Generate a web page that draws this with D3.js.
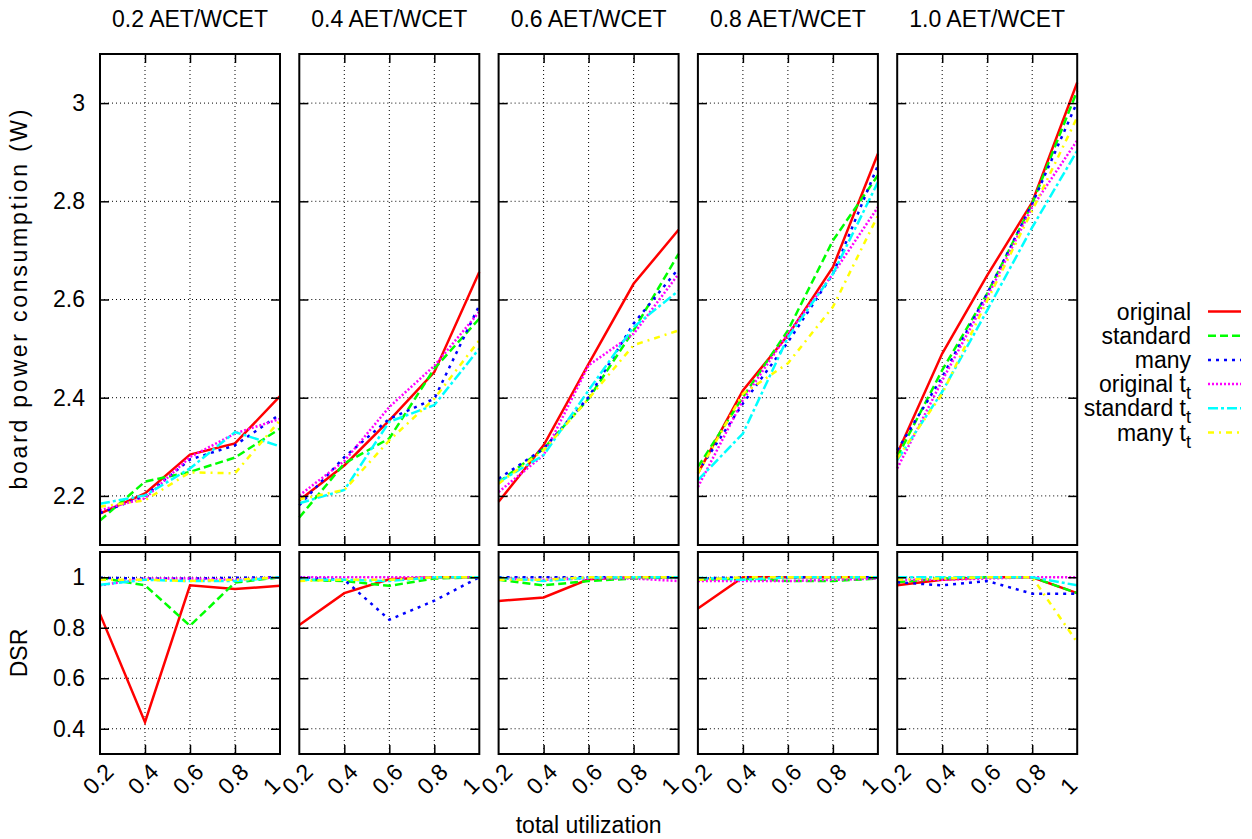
<!DOCTYPE html>
<html>
<head>
<meta charset="utf-8">
<script src="https://cdn.jsdelivr.net/npm/d3@7"></script>
<style>
  body { margin: 0; background: #fff; }
  svg { font-family: "Liberation Sans", Arial, sans-serif; }
</style>
</head>
<body>
<div id="chart"></div>
<script>
// utilization values on the x axis
const utilization = [0.2, 0.4, 0.6, 0.8, 1.0];
const panelTitles = ["0.2 AET/WCET", "0.4 AET/WCET", "0.6 AET/WCET", "0.8 AET/WCET", "1.0 AET/WCET"];
const powerTicks = [2.2, 2.4, 2.6, 2.8, 3.0];
const dsrTicks = [0.4, 0.6, 0.8, 1.0];

const seriesNames = ["original", "standard", "many", "original", "standard", "many"];
const seriesSub = [false, false, false, true, true, true];
const seriesColors = ["#ff0000", "#00ff00", "#0000ff", "#ff00ff", "#00ffff", "#ffff00"];
const seriesDash = [null, "8,4", "3,5", "2,2", "10,3,3,3", "6,5,2,5"];

// board power consumption (W), one row per AET/WCET panel
const powerOriginal = [
  [2.164, 2.205, 2.284, 2.307, 2.403],
  [2.191, 2.262, 2.354, 2.452, 2.656],
  [2.188, 2.303, 2.469, 2.632, 2.742],
  [2.246, 2.415, 2.527, 2.666, 2.897],
  [2.286, 2.490, 2.649, 2.798, 3.042]
];
const powerStandard = [
  [2.150, 2.229, 2.249, 2.278, 2.337],
  [2.156, 2.266, 2.317, 2.459, 2.561],
  [2.228, 2.296, 2.398, 2.537, 2.693],
  [2.259, 2.401, 2.537, 2.720, 2.853],
  [2.279, 2.456, 2.612, 2.795, 3.025]
];
const powerMany = [
  [2.165, 2.200, 2.274, 2.303, 2.366],
  [2.181, 2.279, 2.357, 2.398, 2.588],
  [2.235, 2.296, 2.401, 2.551, 2.663],
  [2.249, 2.388, 2.513, 2.652, 2.873],
  [2.293, 2.442, 2.612, 2.795, 3.002]
];
const powerOriginalTt = [
  [2.171, 2.195, 2.279, 2.327, 2.357],
  [2.201, 2.271, 2.381, 2.465, 2.575],
  [2.208, 2.283, 2.466, 2.530, 2.652],
  [2.218, 2.395, 2.530, 2.652, 2.788],
  [2.256, 2.435, 2.605, 2.788, 2.924]
];
const powerStandardTt = [
  [2.184, 2.201, 2.256, 2.330, 2.301],
  [2.185, 2.212, 2.351, 2.385, 2.500],
  [2.228, 2.283, 2.415, 2.544, 2.618],
  [2.232, 2.327, 2.523, 2.652, 2.839],
  [2.273, 2.412, 2.578, 2.747, 2.903]
];
const powerManyTt = [
  [2.178, 2.191, 2.248, 2.246, 2.354],
  [2.193, 2.212, 2.313, 2.398, 2.517],
  [2.225, 2.293, 2.398, 2.507, 2.537],
  [2.246, 2.408, 2.470, 2.585, 2.771],
  [2.276, 2.408, 2.598, 2.781, 2.971]
];

// deadline satisfaction ratio
const dsrOriginal = [
  [0.854, 0.426, 0.968, 0.953, 0.966],
  [0.811, 0.937, 0.992, 1.0, 1.0],
  [0.906, 0.920, 0.992, 1.0, 1.0],
  [0.876, 1.0, 1.0, 1.0, 1.0],
  [0.968, 0.990, 1.0, 1.0, 0.937]
];
const dsrStandard = [
  [0.998, 0.968, 0.808, 0.979, 1.0],
  [0.990, 0.985, 0.966, 0.995, 1.0],
  [0.990, 0.968, 0.985, 0.995, 1.0],
  [0.990, 0.995, 0.985, 0.985, 0.995],
  [0.980, 0.995, 1.0, 1.0, 0.937]
];
const dsrMany = [
  [0.998, 0.995, 0.995, 0.998, 1.0],
  [1.0, 0.990, 0.832, 0.907, 1.0],
  [1.0, 1.0, 1.0, 1.0, 1.0],
  [0.995, 1.0, 1.0, 1.0, 1.0],
  [0.980, 0.968, 0.985, 0.935, 0.935]
];
const dsrOriginalTt = [
  [0.968, 0.995, 0.995, 0.990, 1.0],
  [1.0, 1.0, 1.0, 1.0, 1.0],
  [0.995, 0.990, 0.995, 0.995, 0.985],
  [0.985, 0.985, 0.985, 0.990, 0.995],
  [0.990, 0.990, 0.995, 1.0, 1.0]
];
const dsrStandardTt = [
  [0.970, 0.990, 0.985, 0.985, 1.0],
  [0.990, 0.990, 0.985, 1.0, 1.0],
  [0.998, 0.985, 0.998, 1.0, 1.0],
  [0.998, 0.990, 1.0, 1.0, 1.0],
  [1.0, 1.0, 1.0, 1.0, 0.968]
];
const dsrManyTt = [
  [0.990, 0.990, 0.985, 0.990, 1.0],
  [0.985, 0.990, 0.990, 1.0, 1.0],
  [0.990, 0.990, 1.0, 1.0, 1.0],
  [0.990, 1.0, 1.0, 1.0, 1.0],
  [0.990, 0.995, 1.0, 1.0, 0.742]
];

const powerSeries = [powerOriginal, powerStandard, powerMany, powerOriginalTt, powerStandardTt, powerManyTt];
const dsrSeries = [dsrOriginal, dsrStandard, dsrMany, dsrOriginalTt, dsrStandardTt, dsrManyTt];

const W = 1252, H = 839;
const FONT = 23;
const panelLeft = 100, panelStep = 199.3, panelWidth = 180;
const topY0 = 54, topY1 = 545, botY0 = 552, botY1 = 754;

const svg = d3.select("#chart").append("svg")
  .attr("width", W).attr("height", H)
  .style("font-size", FONT + "px");

const yPower = d3.scaleLinear().domain([2.1, 3.1]).range([topY1, topY0]);
const yDsr = d3.scaleLinear().domain([0.3, 1.1]).range([botY1, botY0]);
const fmt = d => String(+d.toFixed(1));

function drawPanel(g, x, y, ticksY, rows, p, showY, showX) {
  const [x0, x1] = x.range();
  const [y1, y0] = y.range();

  // grid
  g.selectAll(".gx").data([0.4, 0.6, 0.8]).join("line")
    .attr("x1", d => x(d)).attr("x2", d => x(d))
    .attr("y1", y0).attr("y2", y1)
    .attr("stroke", "#000").attr("stroke-width", 1).attr("stroke-dasharray", "1,3");
  g.selectAll(".gy").data(ticksY).join("line")
    .attr("x1", x0).attr("x2", x1)
    .attr("y1", d => y(d)).attr("y2", d => y(d))
    .attr("stroke", "#000").attr("stroke-width", 1).attr("stroke-dasharray", "1,3");

  // series
  const line = d3.line().x((d, i) => x(utilization[i])).y(d => y(d));
  rows.forEach((s, k) => {
    g.append("path")
      .attr("d", line(s[p]))
      .attr("fill", "none")
      .attr("stroke", seriesColors[k])
      .attr("stroke-width", 2.5)
      .attr("stroke-dasharray", seriesDash[k]);
  });

  // axes with inward ticks
  const ax = (sel) => sel.call(s => s.select(".domain").remove())
    .call(s => s.selectAll(".tick line").attr("stroke-width", 1.5));
  g.append("g").attr("transform", `translate(${x0},0)`)
    .call(d3.axisLeft(y).tickValues(ticksY).tickSize(-9).tickPadding(15)
      .tickFormat(showY ? fmt : ""))
    .call(ax);
  g.append("g").attr("transform", `translate(${x1},0)`)
    .call(d3.axisRight(y).tickValues(ticksY).tickSize(-9).tickFormat(""))
    .call(ax);
  g.append("g").attr("transform", `translate(0,${y0})`)
    .call(d3.axisTop(x).tickValues([0.4, 0.6, 0.8]).tickSize(-9).tickFormat(""))
    .call(ax);
  const bx = g.append("g").attr("transform", `translate(0,${y1})`)
    .call(d3.axisBottom(x).tickValues(showX ? utilization : [0.4, 0.6, 0.8]).tickSize(-9)
      .tickFormat(showX ? fmt : ""))
    .call(ax);
  bx.selectAll(".tick").filter(d => d === 0.2 || d === 1.0).select("line").remove();
  if (showX) {
    bx.selectAll(".tick text")
      .attr("y", 0).attr("dy", 0)
      .attr("text-anchor", "start")
      .attr("transform", "translate(-8,42) rotate(-45)");
  }
  g.selectAll(".tick text").attr("fill", "#000").style("font-size", FONT + "px")
    .style("font-family", "'Liberation Sans', Arial, sans-serif");

  // frame
  g.append("rect")
    .attr("x", x0).attr("y", y0).attr("width", x1 - x0).attr("height", y1 - y0)
    .attr("fill", "none").attr("stroke", "#000").attr("stroke-width", 2);
}

panelTitles.forEach((title, p) => {
  const left = panelLeft + p * panelStep;
  const x = d3.scaleLinear().domain([0.2, 1.0]).range([left, left + panelWidth]);
  const g = svg.append("g");
  drawPanel(g, x, yPower, powerTicks, powerSeries, p, p === 0, false);
  drawPanel(g, x, yDsr, dsrTicks, dsrSeries, p, p === 0, true);
  svg.append("text")
    .attr("x", left + panelWidth / 2).attr("y", 27)
    .attr("text-anchor", "middle").text(title);
});

// axis titles
svg.append("text")
  .attr("transform", `translate(27,${(topY0 + topY1) / 2}) rotate(-90)`)
  .attr("text-anchor", "middle")
  .attr("textLength", 380).attr("lengthAdjust", "spacing")
  .text("board power consumption (W)");
svg.append("text")
  .attr("transform", `translate(27,${(botY0 + botY1) / 2}) rotate(-90)`)
  .attr("text-anchor", "middle").text("DSR");
svg.append("text")
  .attr("x", panelLeft + (4 * panelStep + panelWidth) / 2).attr("y", 833)
  .attr("text-anchor", "middle").text("total utilization");

// legend
const legend = svg.append("g");
seriesNames.forEach((name, k) => {
  const ly = 311.5 + k * 24.2;
  const t = legend.append("text")
    .attr("x", 1191).attr("y", ly + 8).attr("text-anchor", "end");
  if (seriesSub[k]) {
    t.append("tspan").text(name + " t");
    t.append("tspan").attr("dy", 7).style("font-size", "18px").text("t");
  } else {
    t.text(name);
  }
  legend.append("line")
    .attr("x1", 1208).attr("x2", 1241).attr("y1", ly).attr("y2", ly)
    .attr("stroke", seriesColors[k]).attr("stroke-width", 2.5)
    .attr("stroke-dasharray", seriesDash[k]);
});
</script>
</body>
</html>
